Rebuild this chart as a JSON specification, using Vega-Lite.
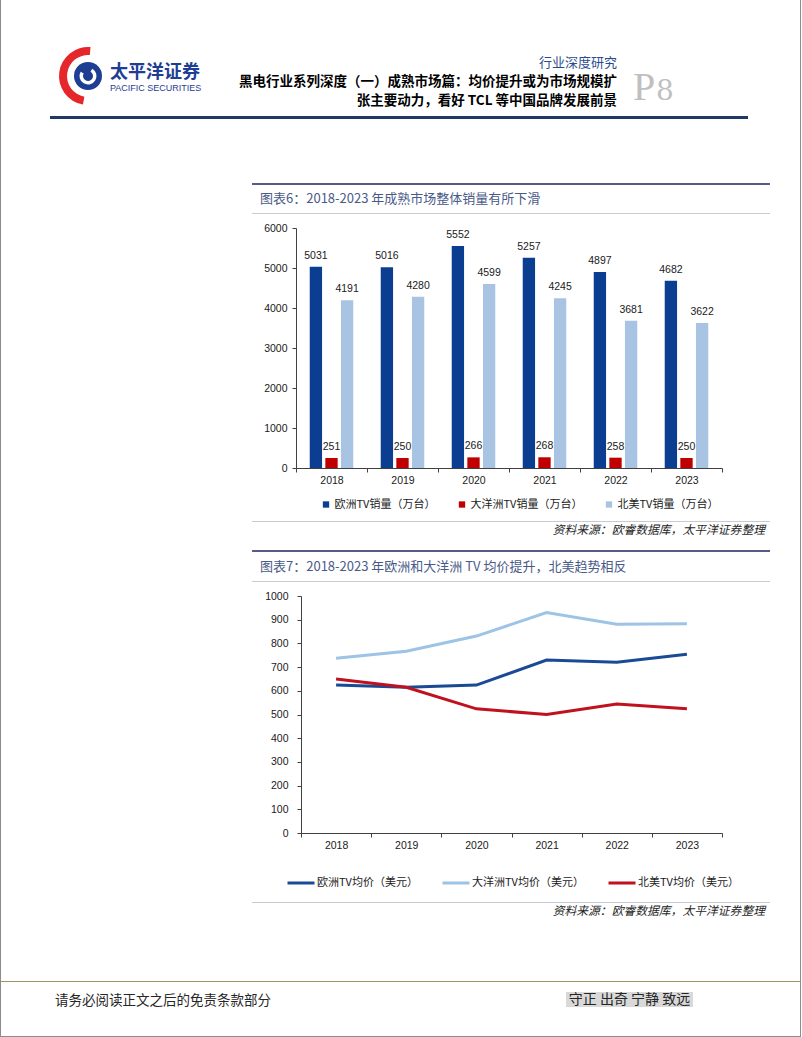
{
  "$schema": "https://vega.github.io/schema/vega-lite/v6.json",
  "background": "white",
  "padding": 0,
  "spacing": 0,
  "data": {"values": []},
  "resolve": {"scale": {"color": "independent"}, "legend": {"color": "independent"}},
  "config": {
    "view": {"stroke": null},
    "font": "Noto Sans CJK SC",
    "title": {"frame": "group", "orient": "bottom", "offset": 0, "fontWeight": "normal"},
    "axis": {"labelFont": "Liberation Sans", "labelFontSize": 10.5, "labelColor": "#1a1a1a", "domainColor": "#404040", "tickColor": "#404040", "grid": false}
  },
  "hconcat": [
    {"width": 1, "height": 1037, "view": {"fill": "#8C8C8C"}, "mark": {"type": "point", "opacity": 0}, "encoding": {}},
    {
      "spacing": 0,
      "resolve": {"scale": {"color": "independent"}, "legend": {"color": "independent"}},
      "vconcat": [
        {"width": 799, "height": 41, "mark": {"type": "point", "opacity": 0}, "encoding": {}},
        {
          "spacing": 0, "bounds": "flush",
          "hconcat": [
            {"width": 57, "height": 70, "mark": {"type": "point", "opacity": 0}, "encoding": {}},
            {
              "width": 60, "height": 70,
              "layer": [
                {
                  "data": {"values": [{"a0": 190, "a1": 365}]},
                  "mark": {"type": "arc", "innerRadius": 21, "outerRadius": 29, "color": "#E5262B"},
                  "encoding": {"theta": {"field": "a0", "type": "quantitative", "scale": {"domain": [0, 360]}}, "theta2": {"field": "a1"}}
                },
                {
                  "data": {"values": [{"a0": 0, "a1": 360}]},
                  "mark": {"type": "arc", "outerRadius": 14, "color": "#1E3E94"},
                  "encoding": {"theta": {"field": "a0", "type": "quantitative", "scale": {"domain": [0, 360]}}, "theta2": {"field": "a1"}}
                },
                {
                  "data": {"values": [{"a0": 30, "a1": 300}]},
                  "mark": {"type": "arc", "innerRadius": 5, "outerRadius": 8.5, "color": "white"},
                  "encoding": {"theta": {"field": "a0", "type": "quantitative", "scale": {"domain": [0, 360]}}, "theta2": {"field": "a1"}}
                }
              ]
            },
            {
              "width": 110, "height": 70, "mark": {"type": "point", "opacity": 0}, "encoding": {},
              "title": {"text": "太平洋证券", "subtitle": "PACIFIC SECURITIES", "orient": "bottom", "anchor": "start", "frame": "group", "offset": -47, "dx": -8, "font": "Noto Sans CJK SC", "fontSize": 18, "fontWeight": "bold", "color": "#1E3E94", "subtitleFont": "Liberation Sans", "subtitleFontSize": 9, "subtitleColor": "#1E3E94", "subtitlePadding": 1.5}
            },
            {
              "width": 389, "height": 70, "mark": {"type": "point", "opacity": 0}, "encoding": {},
              "title": {"text": "行业深度研究", "subtitle": ["黑电行业系列深度（一）成熟市场篇：均价提升或为市场规模扩", "张主要动力，看好 TCL 等中国品牌发展前景"], "orient": "bottom", "anchor": "end", "frame": "group", "offset": -54.3, "font": "Noto Sans CJK SC", "fontSize": 13, "fontWeight": "normal", "color": "#2B4C8C", "subtitleFont": "Noto Sans CJK SC", "subtitleFontSize": 13.5, "subtitleFontWeight": "bold", "subtitleColor": "#000000", "subtitleLineHeight": 18.5, "subtitlePadding": 5.7}
            },
            {"width": 18, "height": 70, "mark": {"type": "point", "opacity": 0}, "encoding": {}},
            {
              "width": 19, "height": 70, "mark": {"type": "point", "opacity": 0}, "encoding": {},
              "title": {"text": "P", "orient": "bottom", "anchor": "start", "frame": "group", "offset": -43, "dx": -2, "font": "Liberation Serif", "fontSize": 40, "fontWeight": "normal", "color": "#BFBFBF"}
            },
            {
              "width": 21, "height": 70, "mark": {"type": "point", "opacity": 0}, "encoding": {},
              "title": {"text": "8", "orient": "bottom", "anchor": "start", "frame": "group", "offset": -33.1, "dx": 2, "font": "DejaVu Serif", "fontSize": 28, "fontWeight": "normal", "color": "#BFBFBF"}
            },
            {"width": 125, "height": 70, "mark": {"type": "point", "opacity": 0}, "encoding": {}}
          ]
        },
        {"width": 799, "height": 5, "mark": {"type": "point", "opacity": 0}, "encoding": {}},
        {
          "spacing": 0, "bounds": "flush",
          "hconcat": [
            {"width": 49, "height": 3, "mark": {"type": "point", "opacity": 0}, "encoding": {}},
            {"width": 698, "height": 3, "view": {"fill": "#1F3864"}, "mark": {"type": "point", "opacity": 0}, "encoding": {}},
            {"width": 52, "height": 3, "mark": {"type": "point", "opacity": 0}, "encoding": {}}
          ]
        },
        {"width": 799, "height": 64, "mark": {"type": "point", "opacity": 0}, "encoding": {}},
        {
          "spacing": 0, "bounds": "flush",
          "hconcat": [
            {"width": 251, "height": 2, "mark": {"type": "point", "opacity": 0}, "encoding": {}},
            {"width": 518, "height": 2, "view": {"fill": "#575B85"}, "mark": {"type": "point", "opacity": 0}, "encoding": {}},
            {"width": 30, "height": 2, "mark": {"type": "point", "opacity": 0}, "encoding": {}}
          ]
        },
        {
          "spacing": 0, "bounds": "flush",
          "hconcat": [
            {"width": 251, "height": 28, "mark": {"type": "point", "opacity": 0}, "encoding": {}},
            {
              "width": 518, "height": 28, "mark": {"type": "point", "opacity": 0}, "encoding": {},
              "title": {"text": "图表6：2018-2023 年成熟市场整体销量有所下滑", "orient": "bottom", "anchor": "start", "frame": "group", "offset": -20.3, "dx": 8, "font": "Noto Sans CJK SC", "fontSize": 13, "fontWeight": "normal", "color": "#4A5A88"}
            },
            {"width": 30, "height": 28, "mark": {"type": "point", "opacity": 0}, "encoding": {}}
          ]
        },
        {
          "spacing": 0, "bounds": "flush",
          "hconcat": [
            {"width": 251, "height": 1, "mark": {"type": "point", "opacity": 0}, "encoding": {}},
            {"width": 518, "height": 1, "view": {"fill": "#C8CAD4"}, "mark": {"type": "point", "opacity": 0}, "encoding": {}},
            {"width": 30, "height": 1, "mark": {"type": "point", "opacity": 0}, "encoding": {}}
          ]
        },
        {"width": 799, "height": 9, "mark": {"type": "point", "opacity": 0}, "encoding": {}},
        {
          "spacing": 0, "bounds": "flush",
          "resolve": {"scale": {"color": "independent"}, "legend": {"color": "independent"}},
          "hconcat": [
            {"width": 295, "height": 293, "mark": {"type": "point", "opacity": 0}, "encoding": {}},
            {
              "width": 426,
              "height": 240,
              "data": {"values": [
                {"year": "2018", "series": "欧洲TV销量（万台）", "value": 5031},
                {"year": "2019", "series": "欧洲TV销量（万台）", "value": 5016},
                {"year": "2020", "series": "欧洲TV销量（万台）", "value": 5552},
                {"year": "2021", "series": "欧洲TV销量（万台）", "value": 5257},
                {"year": "2022", "series": "欧洲TV销量（万台）", "value": 4897},
                {"year": "2023", "series": "欧洲TV销量（万台）", "value": 4682},
                {"year": "2018", "series": "大洋洲TV销量（万台）", "value": 251},
                {"year": "2019", "series": "大洋洲TV销量（万台）", "value": 250},
                {"year": "2020", "series": "大洋洲TV销量（万台）", "value": 266},
                {"year": "2021", "series": "大洋洲TV销量（万台）", "value": 268},
                {"year": "2022", "series": "大洋洲TV销量（万台）", "value": 258},
                {"year": "2023", "series": "大洋洲TV销量（万台）", "value": 250},
                {"year": "2018", "series": "北美TV销量（万台）", "value": 4191},
                {"year": "2019", "series": "北美TV销量（万台）", "value": 4280},
                {"year": "2020", "series": "北美TV销量（万台）", "value": 4599},
                {"year": "2021", "series": "北美TV销量（万台）", "value": 4245},
                {"year": "2022", "series": "北美TV销量（万台）", "value": 3681},
                {"year": "2023", "series": "北美TV销量（万台）", "value": 3622}
              ]},
              "encoding": {
                "x": {"field": "year", "type": "nominal", "title": null, "scale": {"paddingInner": 0, "paddingOuter": 0}, "axis": {"labelAngle": 0, "tickBand": "extent", "tickSize": 4, "labelPadding": 3}},
                "xOffset": {"field": "series", "type": "nominal", "sort": ["欧洲TV销量（万台）", "大洋洲TV销量（万台）", "北美TV销量（万台）"], "scale": {"paddingInner": 0.21, "paddingOuter": 0.88}},
                "y": {"field": "value", "type": "quantitative", "title": null, "scale": {"domain": [0, 6000]}, "axis": {"values": [0, 1000, 2000, 3000, 4000, 5000, 6000], "format": "d", "tickSize": 4, "labelPadding": 5}}
              },
              "layer": [
                {
                  "mark": {"type": "bar"},
                  "encoding": {
                    "color": {
                      "field": "series", "type": "nominal",
                      "scale": {"domain": ["欧洲TV销量（万台）", "大洋洲TV销量（万台）", "北美TV销量（万台）"], "range": ["#0B3D91", "#C00000", "#A9C4E3"]},
                      "legend": {"orient": "none", "legendX": 24.5, "legendY": 271, "direction": "horizontal", "gridAlign": "none", "title": null, "symbolType": "square", "symbolSize": 40, "symbolStrokeWidth": 0, "labelFont": "Noto Sans CJK SC", "labelFontSize": 11, "labelColor": "#1a1a1a", "labelOffset": 3, "columnPadding": 21, "padding": 0}
                    }
                  }
                },
                {
                  "mark": {"type": "text", "baseline": "bottom", "dy": -6, "font": "Liberation Sans", "fontSize": 10.5, "color": "#1a1a1a"},
                  "encoding": {"text": {"field": "value", "type": "quantitative", "format": "d"}}
                }
              ]
            },
            {"width": 78, "height": 293, "mark": {"type": "point", "opacity": 0}, "encoding": {}}
          ]
        },
        {
          "spacing": 0, "bounds": "flush",
          "hconcat": [
            {"width": 251, "height": 1, "mark": {"type": "point", "opacity": 0}, "encoding": {}},
            {"width": 518, "height": 1, "view": {"fill": "#C8CAD4"}, "mark": {"type": "point", "opacity": 0}, "encoding": {}},
            {"width": 30, "height": 1, "mark": {"type": "point", "opacity": 0}, "encoding": {}}
          ]
        },
        {
          "spacing": 0, "bounds": "flush",
          "hconcat": [
            {"width": 251, "height": 28, "mark": {"type": "point", "opacity": 0}, "encoding": {}},
            {
              "width": 518, "height": 28, "mark": {"type": "point", "opacity": 0}, "encoding": {},
              "title": {"text": "资料来源：欧睿数据库，太平洋证券整理", "orient": "bottom", "anchor": "end", "frame": "group", "offset": -24.7, "dx": -5, "font": "Noto Sans CJK SC", "fontSize": 11.8, "fontStyle": "italic", "fontWeight": "normal", "color": "#262626"}
            },
            {"width": 30, "height": 28, "mark": {"type": "point", "opacity": 0}, "encoding": {}}
          ]
        },
        {
          "spacing": 0, "bounds": "flush",
          "hconcat": [
            {"width": 251, "height": 2, "mark": {"type": "point", "opacity": 0}, "encoding": {}},
            {"width": 518, "height": 2, "view": {"fill": "#575B85"}, "mark": {"type": "point", "opacity": 0}, "encoding": {}},
            {"width": 30, "height": 2, "mark": {"type": "point", "opacity": 0}, "encoding": {}}
          ]
        },
        {
          "spacing": 0, "bounds": "flush",
          "hconcat": [
            {"width": 251, "height": 29, "mark": {"type": "point", "opacity": 0}, "encoding": {}},
            {
              "width": 518, "height": 29, "mark": {"type": "point", "opacity": 0}, "encoding": {},
              "title": {"text": "图表7：2018-2023 年欧洲和大洋洲 TV 均价提升，北美趋势相反", "orient": "bottom", "anchor": "start", "frame": "group", "offset": -19.8, "dx": 8, "font": "Noto Sans CJK SC", "fontSize": 13, "fontWeight": "normal", "color": "#4A5A88"}
            },
            {"width": 30, "height": 29, "mark": {"type": "point", "opacity": 0}, "encoding": {}}
          ]
        },
        {
          "spacing": 0, "bounds": "flush",
          "hconcat": [
            {"width": 251, "height": 1, "mark": {"type": "point", "opacity": 0}, "encoding": {}},
            {"width": 518, "height": 1, "view": {"fill": "#C8CAD4"}, "mark": {"type": "point", "opacity": 0}, "encoding": {}},
            {"width": 30, "height": 1, "mark": {"type": "point", "opacity": 0}, "encoding": {}}
          ]
        },
        {"width": 799, "height": 9, "mark": {"type": "point", "opacity": 0}, "encoding": {}},
        {
          "spacing": 0, "bounds": "flush",
          "resolve": {"scale": {"color": "independent"}, "legend": {"color": "independent"}},
          "hconcat": [
            {"width": 300, "height": 306, "mark": {"type": "point", "opacity": 0}, "encoding": {}},
            {
              "width": 421,
              "height": 237,
              "data": {"values": [
                {"year": "2018", "series": "欧洲TV均价（美元）", "price": 624},
                {"year": "2019", "series": "欧洲TV均价（美元）", "price": 615},
                {"year": "2020", "series": "欧洲TV均价（美元）", "price": 624},
                {"year": "2021", "series": "欧洲TV均价（美元）", "price": 730},
                {"year": "2022", "series": "欧洲TV均价（美元）", "price": 720},
                {"year": "2023", "series": "欧洲TV均价（美元）", "price": 754},
                {"year": "2018", "series": "大洋洲TV均价（美元）", "price": 737},
                {"year": "2019", "series": "大洋洲TV均价（美元）", "price": 767},
                {"year": "2020", "series": "大洋洲TV均价（美元）", "price": 831},
                {"year": "2021", "series": "大洋洲TV均价（美元）", "price": 930},
                {"year": "2022", "series": "大洋洲TV均价（美元）", "price": 881},
                {"year": "2023", "series": "大洋洲TV均价（美元）", "price": 883},
                {"year": "2018", "series": "北美TV均价（美元）", "price": 650},
                {"year": "2019", "series": "北美TV均价（美元）", "price": 615},
                {"year": "2020", "series": "北美TV均价（美元）", "price": 524},
                {"year": "2021", "series": "北美TV均价（美元）", "price": 500},
                {"year": "2022", "series": "北美TV均价（美元）", "price": 544},
                {"year": "2023", "series": "北美TV均价（美元）", "price": 524}
              ]},
              "mark": {"type": "line", "strokeWidth": 3},
              "encoding": {
                "x": {"field": "year", "type": "nominal", "title": null, "scale": {"type": "band", "paddingInner": 0, "paddingOuter": 0}, "axis": {"labelAngle": 0, "tickBand": "extent", "tickSize": 4, "labelPadding": 3}},
                "y": {"field": "price", "type": "quantitative", "title": null, "scale": {"domain": [0, 1000]}, "axis": {"values": [0, 100, 200, 300, 400, 500, 600, 700, 800, 900, 1000], "format": "d", "tickSize": 4, "labelPadding": 9}},
                "color": {
                  "field": "series", "type": "nominal",
                  "scale": {"domain": ["欧洲TV均价（美元）", "大洋洲TV均价（美元）", "北美TV均价（美元）"], "range": ["#1A4A94", "#9DC3E6", "#C0111F"]},
                  "legend": {"orient": "none", "legendX": -15, "legendY": 272, "direction": "horizontal", "gridAlign": "none", "title": null, "symbolType": "stroke", "symbolSize": 729, "symbolStrokeWidth": 3, "labelFont": "Noto Sans CJK SC", "labelFontSize": 11, "labelColor": "#1a1a1a", "labelOffset": 1, "columnPadding": 18, "padding": 0}
                }
              }
            },
            {"width": 78, "height": 306, "mark": {"type": "point", "opacity": 0}, "encoding": {}}
          ]
        },
        {
          "spacing": 0, "bounds": "flush",
          "hconcat": [
            {"width": 251, "height": 1, "mark": {"type": "point", "opacity": 0}, "encoding": {}},
            {"width": 518, "height": 1, "view": {"fill": "#C8CAD4"}, "mark": {"type": "point", "opacity": 0}, "encoding": {}},
            {"width": 30, "height": 1, "mark": {"type": "point", "opacity": 0}, "encoding": {}}
          ]
        },
        {
          "spacing": 0, "bounds": "flush",
          "hconcat": [
            {"width": 251, "height": 78, "mark": {"type": "point", "opacity": 0}, "encoding": {}},
            {
              "width": 518, "height": 78, "mark": {"type": "point", "opacity": 0}, "encoding": {},
              "title": {"text": "资料来源：欧睿数据库，太平洋证券整理", "orient": "bottom", "anchor": "end", "frame": "group", "offset": -75, "dx": -5, "font": "Noto Sans CJK SC", "fontSize": 11.8, "fontStyle": "italic", "fontWeight": "normal", "color": "#262626"}
            },
            {"width": 30, "height": 78, "mark": {"type": "point", "opacity": 0}, "encoding": {}}
          ]
        },
        {"width": 799, "height": 1, "view": {"fill": "#9E9660"}, "mark": {"type": "point", "opacity": 0}, "encoding": {}},
        {"width": 799, "height": 10, "mark": {"type": "point", "opacity": 0}, "encoding": {}},
        {
          "spacing": 0, "bounds": "flush",
          "hconcat": [
            {"width": 54, "height": 15, "mark": {"type": "point", "opacity": 0}, "encoding": {}},
            {
              "width": 300, "height": 15, "mark": {"type": "point", "opacity": 0}, "encoding": {},
              "title": {"text": "请务必阅读正文之后的免责条款部分", "orient": "bottom", "anchor": "start", "frame": "group", "offset": -13.5, "font": "Noto Sans CJK SC", "fontSize": 13.5, "fontWeight": "normal", "color": "#262626"}
            },
            {"width": 211, "height": 15, "mark": {"type": "point", "opacity": 0}, "encoding": {}},
            {
              "width": 127, "height": 15, "view": {"fill": "#D9D9D9"}, "mark": {"type": "point", "opacity": 0}, "encoding": {},
              "title": {"text": "守正 出奇 宁静 致远", "orient": "bottom", "anchor": "middle", "frame": "group", "offset": -14, "font": "Noto Sans CJK SC", "fontSize": 14, "fontWeight": "normal", "color": "#262626"}
            },
            {"width": 107, "height": 15, "mark": {"type": "point", "opacity": 0}, "encoding": {}}
          ]
        },
        {"width": 799, "height": 29, "mark": {"type": "point", "opacity": 0}, "encoding": {}},
        {"width": 799, "height": 1, "view": {"fill": "#8C8C8C"}, "mark": {"type": "point", "opacity": 0}, "encoding": {}}
      ]
    },
    {"width": 1, "height": 1037, "view": {"fill": "#8C8C8C"}, "mark": {"type": "point", "opacity": 0}, "encoding": {}}
  ]
}
